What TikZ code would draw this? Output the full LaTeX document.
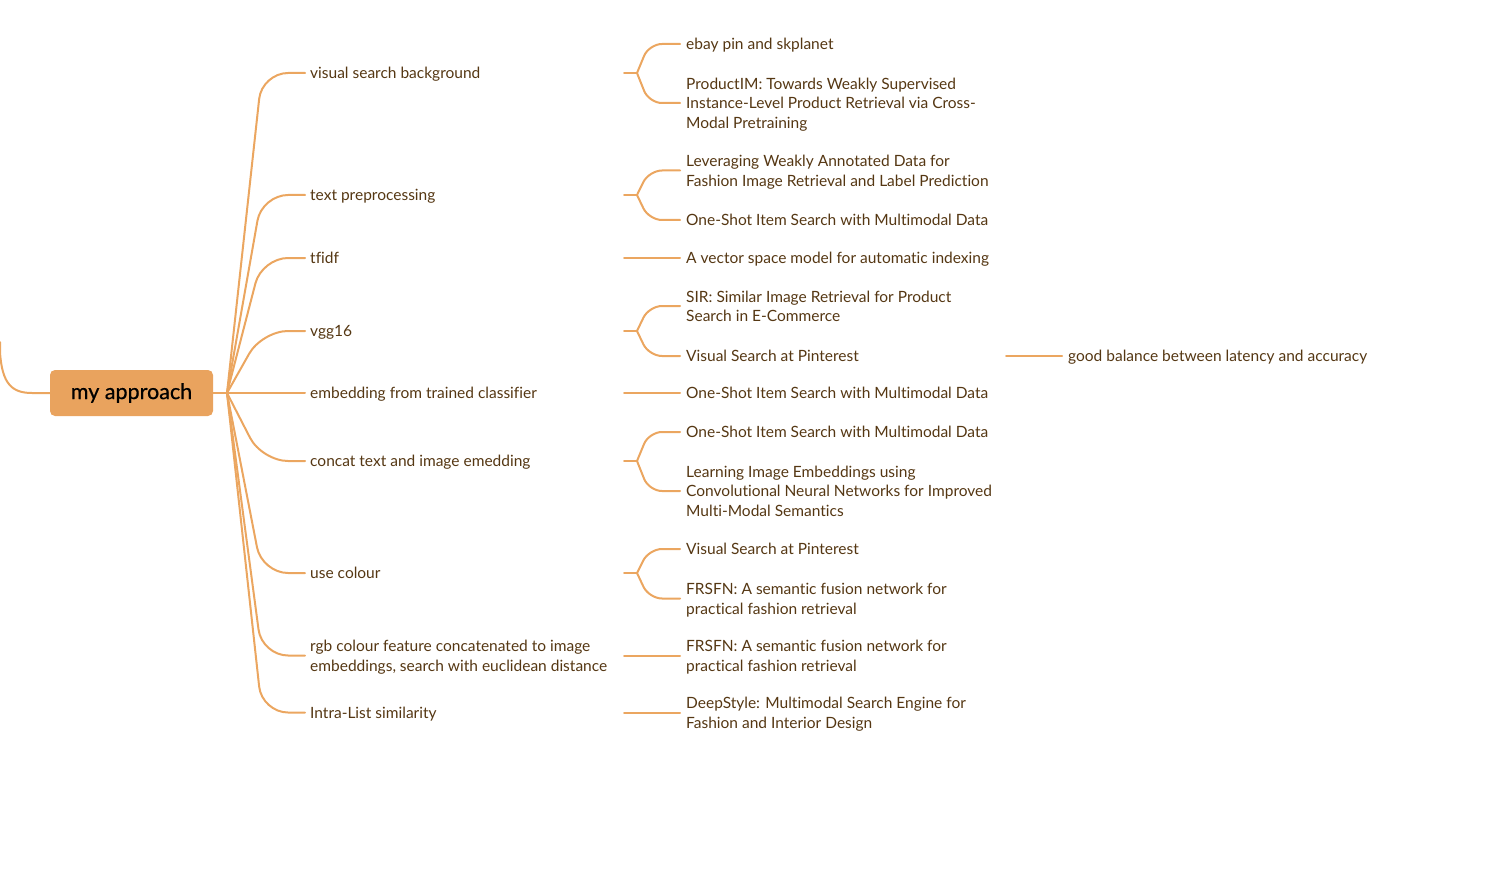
\documentclass[tikz,border=0pt]{standalone}
\usepackage{fontspec}
\setmainfont{Lato}[Ligatures=NoCommon]
\newfontfamily\rootfont{Lato}[Ligatures=NoCommon,FakeBold=0.6]
\usetikzlibrary{calc}
\definecolor{lineor}{HTML}{EBA660}
\definecolor{rootfill}{HTML}{E9A35E}
\definecolor{txt}{HTML}{553713}
\newcommand\ms{\rule[-3.7pt]{0pt}{19pt}}
\tikzset{
  conn/.style={draw=lineor, line width=2pt, line cap=round},
  lvone/.style={anchor=west, inner xsep=5pt, inner ysep=0pt, align=left, text=txt,
    font=\fontsize{15.5}{19.5}\selectfont},
  lvtwo/.style={anchor=west, inner xsep=6pt, inner ysep=0pt, align=left, text=txt,
    font=\fontsize{15.5}{19.5}\selectfont},
  rootbox/.style={fill=rootfill, rounded corners=5pt, minimum width=163pt, minimum height=46pt,
    inner sep=0pt, text=black, font=\rootfont\fontsize{21.5}{24}\selectfont},
  bone/.style={conn, rounded corners=26pt},
  btwo/.style={conn, rounded corners=13pt}
}
\begin{document}
\begin{tikzpicture}[x=1pt,y=-1pt]
\useasboundingbox (0,0) rectangle (1502,896);

% root
\node[rootbox] (root) at (131.5,393) {\raisebox{-1pt}{my approach}};
\coordinate (top) at (0,342);
\draw[conn] (top) -- (0,352) .. controls (2,384) and (12,393) .. (32,393) -- (root.west);
\coordinate (hub) at (227,393);
\draw[conn] (root.east) -- (hub);
\coordinate (e1) at (262,0);
\coordinate (e2) at (649,0);

% level 1
\node[lvone] (a) at (305,73) {\ms visual search background};
\node[lvone] (b) at (305,195) {\ms text preprocessing};
\node[lvone] (c) at (305,258) {\ms tfidf};
\node[lvone] (d) at (305,331) {\ms vgg16};
\node[lvone] (e) at (305,393) {\ms embedding from trained classifier};
\node[lvone] (f) at (305,461) {\ms concat text and image emedding};
\node[lvone] (g) at (305,573) {\ms use colour};
\node[lvone] (h) at (305,655.5) {\ms rgb colour feature concatenated to image\\\ms embeddings, search with euclidean distance};
\node[lvone] (i) at (305,712.5) {\ms Intra-List similarity};

\foreach \n in {a,b,c,d,f,g,h,i}{
  \draw[bone] (hub) -- (\n.west -| e1) -- (\n.west);
}
\draw[conn] (hub) -- (e.west);

% stems and forks
\foreach \n in {a,b,c,d,e,f,g,h,i}{
  \coordinate (s\n) at ($(\n.west)+(319,0)$);
  \coordinate (k\n) at ($(\n.west)+(332,0)$);
}

% level 2
\node[lvtwo] (a1) at (680,44) {\ms ebay pin and skplanet};
\node[lvtwo] (a2) at (680,103) {\ms ProductIM: Towards Weakly Supervised\\\ms Instance-Level Product Retrieval via Cross-\\\ms Modal Pretraining};
\node[lvtwo] (b1) at (680,170.5) {\ms Leveraging Weakly Annotated Data for\\\ms Fashion Image Retrieval and Label Prediction};
\node[lvtwo] (b2) at (680,220) {\ms One-Shot Item Search with Multimodal Data};
\node[lvtwo] (c1) at (680,258) {\ms A vector space model for automatic indexing};
\node[lvtwo] (d1) at (680,306) {\ms SIR: Similar Image Retrieval for Product\\\ms Search in E-Commerce};
\node[lvtwo] (d2) at (680,356) {\ms Visual Search at Pinterest};
\node[lvtwo] (e1n) at (680,393) {\ms One-Shot Item Search with Multimodal Data};
\node[lvtwo] (f1) at (680,432) {\ms One-Shot Item Search with Multimodal Data};
\node[lvtwo] (f2) at (680,491) {\ms Learning Image Embeddings using\\\ms Convolutional Neural Networks for Improved\\\ms Multi-Modal Semantics};
\node[lvtwo] (g1) at (680,549) {\ms Visual Search at Pinterest};
\node[lvtwo] (g2) at (680,598.5) {\ms FRSFN: A semantic fusion network for\\\ms practical fashion retrieval};
\node[lvtwo] (h1) at (680,655.5) {\ms FRSFN: A semantic fusion network for\\\ms practical fashion retrieval};
\node[lvtwo] (i1) at (680,712.5) {\ms DeepStyle: Multimodal Search Engine for\\\ms Fashion and Interior Design};

% level 3
\node[lvtwo] (d21) at (1062,356) {\ms good balance between latency and accuracy};

% forks
\foreach \p/\q/\r in {a/a1/a2, b/b1/b2, d/d1/d2, f/f1/f2, g/g1/g2}{
  \draw[conn] (s\p) -- (k\p);
  \draw[btwo] (k\p) -- (\q.west -| e2) -- (\q.west);
  \draw[btwo] (k\p) -- (\r.west -| e2) -- (\r.west);
}
% single children
\draw[conn] (sc) -- (c1.west);
\draw[conn] (se) -- (e1n.west);
\draw[conn] (sh) -- (h1.west);
\draw[conn] (si) -- (i1.west);
% level 3 connector
\coordinate (s3) at (1006,356);
\draw[conn] (s3) -- (d21.west);
\end{tikzpicture}
\end{document}
